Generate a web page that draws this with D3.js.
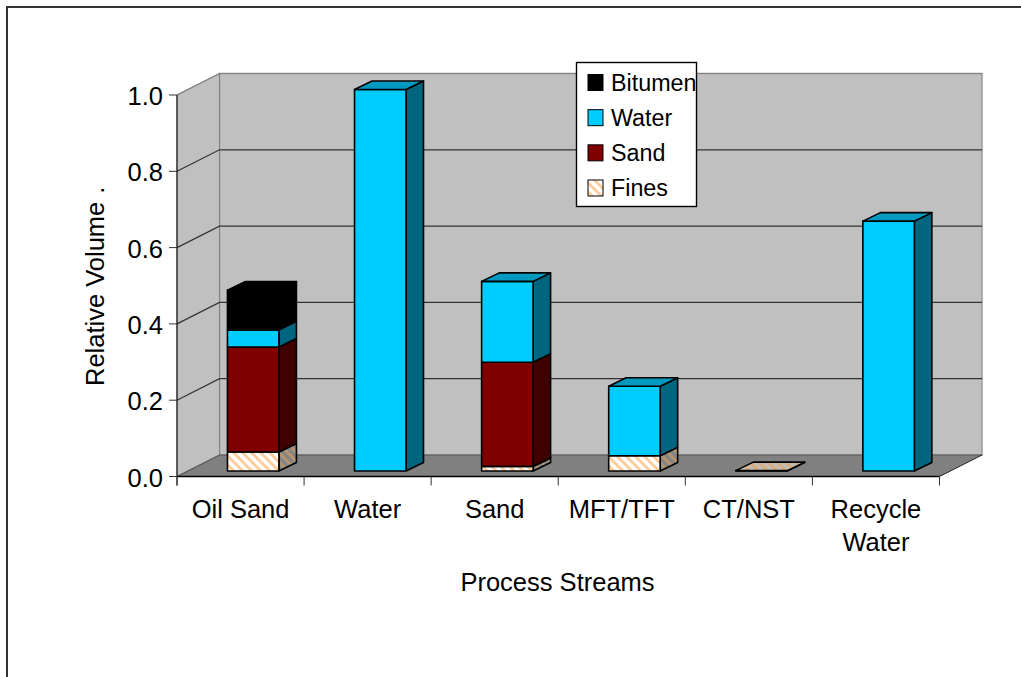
<!DOCTYPE html>
<html>
<head>
<meta charset="utf-8">
<style>
html,body{margin:0;padding:0;background:#fff}
svg{display:block}
text{font-family:"Liberation Sans",Arial,sans-serif;fill:#000}
</style>
<script src="https://cdn.jsdelivr.net/npm/d3@7/dist/d3.min.js"></script>
</head>
<body>
<svg id="chart" width="1021" height="677"></svg>
<script>
// Stream names and stacked relative volumes
const categories = ["Oil Sand", "Water", "Sand", "MFT/TFT", "CT/NST", "Recycle Water"];
const seriesNames = ["Fines", "Sand", "Water", "Bitumen"];
const fines   = [0.05, 0, 0.012, 0.04, 0.001, 0];
const sand    = [0.275, 0, 0.273, 0, 0, 0];
const water   = [0.045, 1.0, 0.212, 0.182, 0, 0.655];
const bitumen = [0.104, 0, 0, 0, 0, 0];
const yTicks = [0, 0.2, 0.4, 0.6, 0.8, 1.0];

const faces = {
  Bitumen: {front: "#000000", side: "#000000", top: "#000000"},
  Water:   {front: "#00ccff", side: "#006680", top: "#0099bf"},
  Sand:    {front: "#800000", side: "#400000", top: "#600000"},
  Fines:   {front: "url(#hatch)", side: "url(#hatchDark)", top: "url(#hatchTop)"}
};

const svg = d3.select("#chart");

// Diagonal stripe fills for the Fines series
function stripes(id, bg, fg) {
  const p = svg.append("defs").append("pattern")
    .attr("id", id).attr("width", 6.4).attr("height", 6.4)
    .attr("patternUnits", "userSpaceOnUse")
    .attr("patternTransform", "rotate(45)");
  p.append("rect").attr("width", 6.4).attr("height", 6.4).attr("fill", bg);
  p.append("rect").attr("width", 6.4).attr("height", 2.8).attr("fill", fg);
}
stripes("hatch", "#ffffff", "#ffcc99");
stripes("hatchDark", "#858585", "#b8946c");
stripes("hatchTop", "#c4bcb0", "#d8aa80");

// Chart frame: left and top edges inside the page
svg.append("path")
  .attr("d", "M7,677V7H1021")
  .attr("fill", "none").attr("stroke", "#333").attr("stroke-width", 2);

// Plot geometry: front plane, plus the depth vector of the box
const x0 = 177, x1 = 939.5, yBase = 476.5, yTop = 95;
const wallDx = 42.5, wallDy = -21.5;
const x = d3.scaleBand().domain(categories).range([x0, x1]);
const y = d3.scaleLinear().domain([0, 1]).range([yBase, yTop]);

// Bars sit part-way into the box
const barWidthFrac = 0.405, barLeftFrac = 0.397;
const barInsetY = -5.5;
const barDx = 17.5, barDy = -8.5;

// Back wall, side wall, floor
const g = svg.append("g");
g.append("polygon")
  .attr("points", [[x0 + wallDx, yTop + wallDy], [x1 + wallDx, yTop + wallDy], [x1 + wallDx, yBase + wallDy], [x0 + wallDx, yBase + wallDy]].join(" "))
  .attr("fill", "#c0c0c0").attr("stroke", "#999").attr("stroke-width", 1.5);
g.append("polygon")
  .attr("points", [[x0, yTop], [x0 + wallDx, yTop + wallDy], [x0 + wallDx, yBase + wallDy], [x0, yBase]].join(" "))
  .attr("fill", "#c0c0c0").attr("stroke", "#808080");
g.append("polygon")
  .attr("points", [[x0, yBase], [x0 + wallDx, yBase + wallDy], [x1 + wallDx, yBase + wallDy], [x1, yBase]].join(" "))
  .attr("fill", "#808080");

// Gridlines run along the side wall and the back wall
g.selectAll("path.grid").data(yTicks.slice(1)).join("path")
  .attr("class", "grid")
  .attr("d", v => `M${x0},${y(v)}L${x0 + wallDx},${y(v) + wallDy}H${x1 + wallDx}`)
  .attr("fill", "none").attr("stroke", v => v === 1 ? "#808080" : "#333").attr("stroke-width", 1.2);
g.append("path")
  .attr("d", `M${x0},${yBase}L${x0 + wallDx},${yBase + wallDy}H${x1 + wallDx}`)
  .attr("fill", "none").attr("stroke", "#555").attr("stroke-width", 1.2);
g.append("line")
  .attr("x1", x1).attr("y1", yBase).attr("x2", x1 + wallDx).attr("y2", yBase + wallDy)
  .attr("stroke", "#222");

// Stacked 3D bars
const stack = d3.stack().keys(seriesNames)
  .value((d, k) => d[k]);
const rows = categories.map((c, i) => ({
  category: c, Fines: fines[i], Sand: sand[i], Water: water[i], Bitumen: bitumen[i]
}));
const layers = stack(rows);

layers.forEach(layer => {
  const f = faces[layer.key];
  const gl = svg.append("g").attr("class", "series-" + layer.key);
  layer.forEach((seg, i) => {
    const h = seg[1] - seg[0];
    if (h <= 0) return;
    const left = x(categories[i]) + x.bandwidth() * barLeftFrac;
    const w = x.bandwidth() * barWidthFrac;
    const bx0 = left, bx1 = left + w;
    const by0 = y(seg[0]) + barInsetY, by1 = y(seg[1]) + barInsetY;
    const isTop = layers.slice(layers.indexOf(layer) + 1).every(l => l[i][1] - l[i][0] <= 0);
    const put = (pts, fill) => gl.append("polygon")
      .attr("points", pts.join(" ")).attr("fill", fill)
      .attr("stroke", "#000").attr("stroke-width", 1.6).attr("stroke-linejoin", "round");
    // side face, then front, then the top cap on the uppermost segment
    put([[bx1, by1], [bx1 + barDx, by1 + barDy], [bx1 + barDx, by0 + barDy], [bx1, by0]], f.side);
    put([[bx0, by1], [bx1, by1], [bx1, by0], [bx0, by0]], f.front);
    if (isTop) put([[bx0, by1], [bx0 + barDx, by1 + barDy], [bx1 + barDx, by1 + barDy], [bx1, by1]], f.top);
  });
});

// Value axis
const axisG = svg.append("g");
const labelSize = 25.5;
axisG.append("line").attr("x1", x0).attr("x2", x0).attr("y1", yTop).attr("y2", yBase + 9).attr("stroke", "#000");
axisG.selectAll("line.ytick").data(yTicks).join("line")
  .attr("class", "ytick")
  .attr("x1", x0 - 8).attr("x2", x0).attr("y1", d => y(d)).attr("y2", d => y(d))
  .attr("stroke", "#333");
axisG.selectAll("text.ylabel").data(yTicks).join("text")
  .attr("class", "ylabel")
  .attr("x", x0 - 14).attr("y", d => y(d) + 10)
  .attr("text-anchor", "end").attr("font-size", labelSize)
  .text(d => d3.format(".1f")(d));

// Category axis
axisG.append("line").attr("x1", x0).attr("x2", x1).attr("y1", yBase).attr("y2", yBase).attr("stroke", "#000").attr("stroke-width", 1.4);
axisG.selectAll("line.xtick").data(d3.range(categories.length + 1)).join("line")
  .attr("class", "xtick")
  .attr("x1", i => x0 + i * x.step()).attr("x2", i => x0 + i * x.step())
  .attr("y1", yBase).attr("y2", yBase + 9).attr("stroke", "#333");
axisG.selectAll("text.xlabel").data(categories).join("text")
  .attr("class", "xlabel")
  .attr("text-anchor", "middle").attr("font-size", labelSize)
  .each(function (d) {
    const t = d3.select(this);
    const words = d === "Recycle Water" ? ["Recycle", "Water"] : [d];
    words.forEach((w, k) => t.append("tspan")
      .attr("x", x(d) + x.bandwidth() / 2)
      .attr("y", 518 + k * 33).text(w));
  });

// Axis titles
svg.append("text").attr("x", 557.5).attr("y", 591).attr("text-anchor", "middle").attr("font-size", labelSize).text("Process Streams");
const yTitle = svg.append("text").attr("transform", "translate(104,386) rotate(-90)").attr("font-size", labelSize);
yTitle.append("tspan").text("Relative Volume");
yTitle.append("tspan").attr("dx", 8).text(".");

// Legend
const legendX = 576, legendY = 62, legendW = 120, legendH = 144;
const lg = svg.append("g");
lg.append("rect").attr("x", legendX + .5).attr("y", legendY + .5).attr("width", legendW).attr("height", legendH)
  .attr("fill", "#fff").attr("stroke", "#000").attr("stroke-width", 1.4);
const legendOrder = ["Bitumen", "Water", "Sand", "Fines"];
const ly = d3.scalePoint().domain(legendOrder).range([82.5, 188]);
legendOrder.forEach(k => {
  lg.append("rect").attr("x", 588).attr("y", ly(k) - 8).attr("width", 15).attr("height", 16)
    .attr("fill", faces[k].front).attr("stroke", "#000");
  lg.append("text").attr("x", 611).attr("y", ly(k) + 8).attr("font-size", 23.3).text(k);
});
</script>
</body>
</html>
